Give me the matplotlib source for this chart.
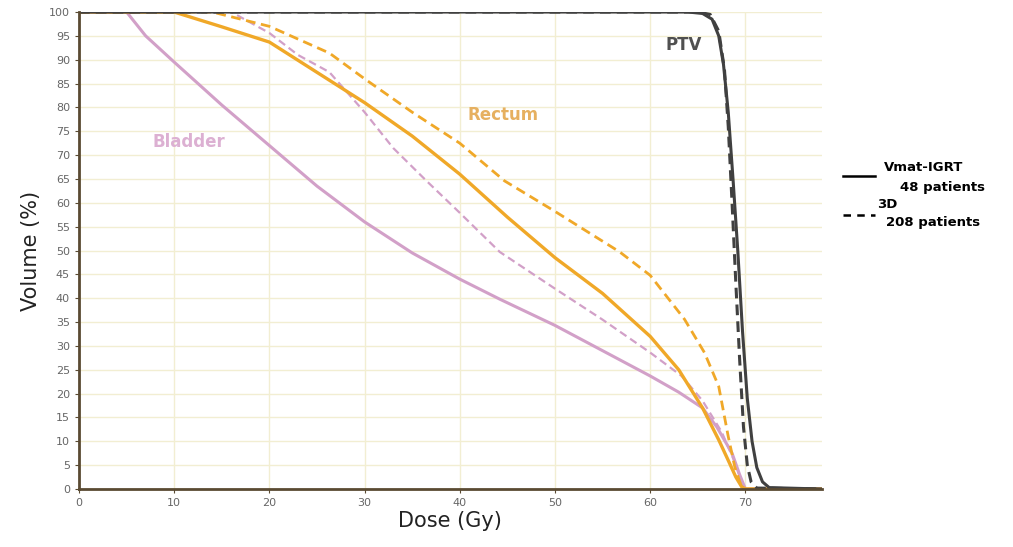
import matplotlib.pyplot as plt
from matplotlib.lines import Line2D

# dose (Gy) / volume (%)
ptv_vmat_dose = [0, 64, 65.5, 66.5, 67.2, 67.7, 68.2, 68.7, 69.2, 69.7, 70.2, 70.7, 71.2, 71.8, 72.5, 78]
ptv_vmat_vol = [100, 100, 99.7, 98.5, 95, 89, 79, 65, 50, 33, 19, 10, 4.5, 1.5, 0.3, 0]
ptv_3d_dose = [0, 65, 66.3, 67.2, 67.8, 68.2, 68.6, 69.0, 69.4, 69.8, 70.2, 70.6, 71.2, 78]
ptv_3d_vol = [100, 100, 99.5, 96, 88, 76, 60, 43, 27, 13, 5, 1.5, 0.2, 0]

rectum_vmat_dose = [0, 10, 15, 20, 26.3, 30, 35, 40, 45, 50, 55, 60, 63, 65.5, 67.2, 68.2, 69.0, 69.6, 70, 78]
rectum_vmat_vol = [100, 100, 96.9, 93.7, 85.7, 81, 74, 66, 57, 48.5, 41, 32, 25, 17, 10.3, 6, 2.5, 0.5, 0, 0]
rectum_3d_dose = [0, 14, 20, 26.3, 30, 35, 40, 44.7, 50, 56.8, 60, 63.6, 65.7, 67.2, 68.2, 68.9, 69.5, 70, 78]
rectum_3d_vol = [100, 100, 97, 91.4, 86, 79, 72.5, 64.6, 58.2, 49.7, 44.8, 35.6, 28.6, 21.5, 11, 4.5, 1, 0, 0]

bladder_vmat_dose = [0, 5, 7, 10, 15, 20, 25, 30, 35, 40, 44.2, 50, 55, 60, 63, 65.5, 67, 68.6, 69.4, 70, 78]
bladder_vmat_vol = [100, 100, 95, 89.5, 80.5, 72, 63.5, 56, 49.5, 44, 39.8, 34.3, 29, 23.7, 20.3, 17, 13, 7.5, 3, 0, 0]
bladder_3d_dose = [0, 16, 20, 23, 26.3, 30, 33, 36.5, 40, 44.2, 50, 55, 60, 63.3, 65.5, 67.5, 68.8, 69.6, 70, 78]
bladder_3d_vol = [100, 100, 95.6, 91, 87.4, 79, 71.5, 64.6, 57.9, 49.7, 42, 35.5, 28.6, 23.7, 18.5, 12, 6, 1.5, 0, 0]

x_ticks = [0, 10, 20, 30, 40, 50, 60, 70]
y_ticks = list(range(0, 101, 5))

ptv_col = "#404040"
rectum_col = "#f0a828"
bladder_col = "#d2a0c8"
dash = (0, (3.5, 2))

fig = plt.figure(figsize=(10.13, 5.47), dpi=100)
ax = fig.add_axes([0.078, 0.106, 0.733, 0.872])

ax.plot(bladder_vmat_dose, bladder_vmat_vol, color=bladder_col, lw=2.2)
ax.plot(bladder_3d_dose, bladder_3d_vol, color=bladder_col, lw=1.6, linestyle=dash)
ax.plot(rectum_vmat_dose, rectum_vmat_vol, color=rectum_col, lw=2.4)
ax.plot(rectum_3d_dose, rectum_3d_vol, color=rectum_col, lw=2.0, linestyle=dash)
ax.plot(ptv_3d_dose, ptv_3d_vol, color=ptv_col, lw=2.2, linestyle=dash)
ax.plot(ptv_vmat_dose, ptv_vmat_vol, color=ptv_col, lw=2.2)

ax.text(63.5, 93, "PTV", color="#505050", fontsize=12, fontweight="bold", ha="center", va="center")
ax.text(44.5, 78.4, "Rectum", color="#e6b060", fontsize=12, fontweight="bold", ha="center", va="center")
ax.text(11.5, 72.7, "Bladder", color="#dcb0d2", fontsize=12, fontweight="bold", ha="center", va="center")

ax.set_xlim(0, 78)
ax.set_ylim(0, 100)
ax.set_xticks(x_ticks)
ax.set_yticks(y_ticks)
ax.grid(True, color="#f2eed2", lw=1)
ax.set_axisbelow(True)
for s in ["top", "right"]:
    ax.spines[s].set_visible(False)
for s in ["left", "bottom"]:
    ax.spines[s].set_color("#5a4a32")
    ax.spines[s].set_linewidth(2)
ax.tick_params(colors="#5a4a32", labelcolor="#666666", labelsize=8, length=3)
ax.set_xlabel("Dose (Gy)", fontsize=15, color="#222222", labelpad=2)
ax.set_ylabel("Volume (%)", fontsize=15, color="#222222", labelpad=6)

# legend drawn by hand outside the axes
fig.add_artist(Line2D([0.832, 0.864], [0.679, 0.679], color="black", lw=1.8))
fig.text(0.873, 0.694, "Vmat-IGRT", fontsize=9.5, fontweight="bold", va="center")
fig.text(0.888, 0.658, "48 patients", fontsize=9.5, fontweight="bold", va="center")
fig.add_artist(Line2D([0.832, 0.864], [0.607, 0.607], color="black", lw=1.8, linestyle=(0, (3, 2.5))))
fig.text(0.866, 0.626, "3D", fontsize=9.5, fontweight="bold", va="center")
fig.text(0.875, 0.594, "208 patients", fontsize=9.5, fontweight="bold", va="center")

fig.savefig("out.png", dpi=100)
